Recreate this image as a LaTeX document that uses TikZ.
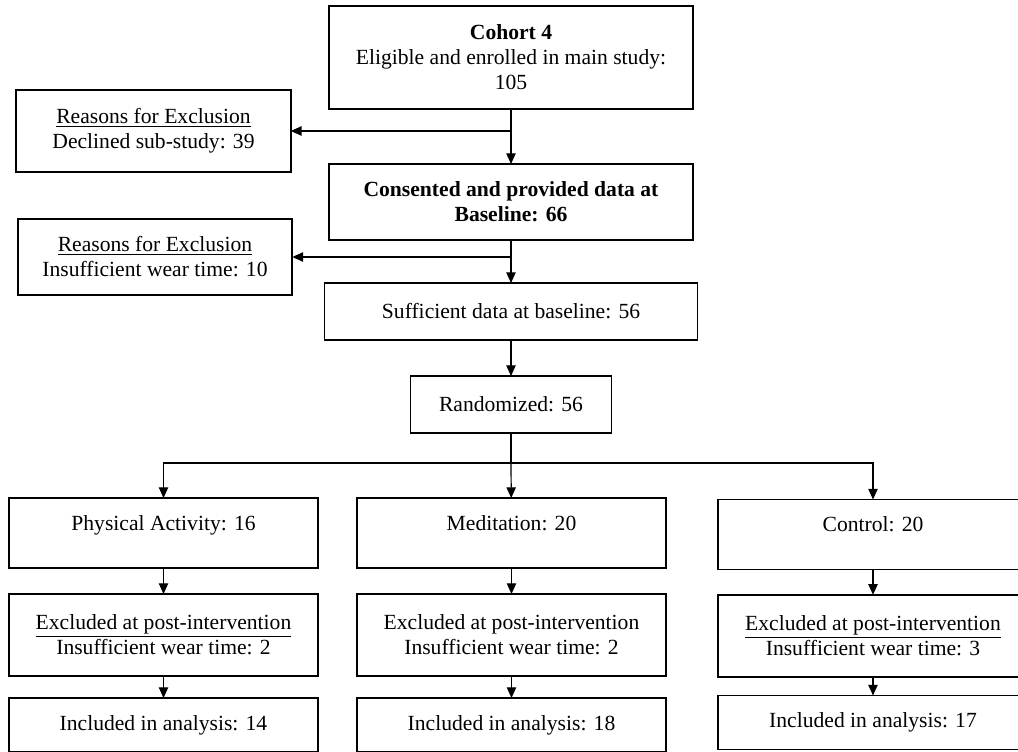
\documentclass[tikz,border=0pt]{standalone}
\usepackage{fontspec}
\setmainfont{Liberation Serif}
\usepackage{tikz}
\usetikzlibrary{arrows.meta,positioning}

\begin{document}
\begin{tikzpicture}[
    x=0.75pt, y=-0.75pt,
    font=\fontsize{16.2}{18.8}\selectfont,
    box/.style={rectangle, draw, line width=1.4pt, align=center, inner sep=2pt, outer sep=0pt},
    main/.style={box, minimum width=273pt},
    side/.style={box, minimum width=206pt},
    arm/.style={box, minimum width=232pt},
    armtop/.style={arm, minimum height=52.5pt, text depth=15.5pt},
    arrow/.style={-{Triangle[width=7pt,length=8pt]}, line width=0.9pt},
    link/.style={line width=0.9pt}
]
    \useasboundingbox (0,0) rectangle (1018,751);

    % main column
    \node[main, minimum height=77.25pt] (cohort) at (511,57.5)
        {\textbf{Cohort 4}\\Eligible and enrolled in main study:\\105};
    \node[main, minimum height=57pt, below=41.25pt of cohort, font=\fontsize{16.2}{18.8}\selectfont\bfseries] (cons)
        {Consented and provided data at\\Baseline: 66};
    \node[box, minimum width=279.75pt, minimum height=42.75pt, below=32.25pt of cons] (suff)
        {Sufficient data at baseline: 56};
    \node[box, minimum width=150.75pt, minimum height=42.75pt, below=27pt of suff] (rand)
        {Randomized: 56};

    % exclusions
    \node[side, minimum height=61.5pt] (excl1) at (153.5,131)
        {\underline{Reasons for Exclusion}\\Declined sub-study: 39};
    \node[side, minimum height=57pt] (excl2) at (155,257)
        {\underline{Reasons for Exclusion}\\Insufficient wear time: 10};

    % arms
    \node[armtop] (pa) at (163.5,533) {Physical Activity: 16};
    \node[armtop] (med) at (511.5,533) {Meditation: 20};
    \node[armtop] (ctrl) at (873,534.5) {Control: 20};

    \node[arm, minimum height=61.5pt, below=19.5pt of pa] (paexcl)
        {\underline{Excluded at post-intervention}\\Insufficient wear time: 2};
    \node[arm, minimum height=61.5pt, below=19.5pt of med] (medexcl)
        {Excluded at post-intervention\\Insufficient wear time: 2};
    \node[arm, minimum height=61.5pt, below=19pt of ctrl] (ctrlexcl)
        {\underline{Excluded at post-intervention}\\Insufficient wear time: 3};

    \node[arm, minimum height=40.5pt, below=16.5pt of paexcl] (paincl) {Included in analysis: 14};
    \node[arm, minimum height=40.5pt, below=16.5pt of medexcl] (medincl) {Included in analysis: 18};
    \node[arm, minimum height=40.5pt, below=14pt of ctrlexcl] (ctrlincl) {Included in analysis: 17};

    % connectors
    \draw[arrow] (cohort) -- (cons);
    \draw[arrow] (cohort.south |- excl1.east) -- (excl1.east);
    \draw[arrow] (cons) -- (suff);
    \draw[arrow] (cons.south |- excl2.east) -- (excl2.east);
    \draw[arrow] (suff) -- (rand);
    \draw[link] (rand.south) -- ++(0,30) coordinate (split);
    \draw[arrow] (split) -- (med);
    \draw[arrow] (split) -| (pa);
    \draw[arrow] (split) -| (ctrl);

    \draw[arrow] (pa) -- (paexcl);
    \draw[arrow] (med) -- (medexcl);
    \draw[arrow] (ctrl) -- (ctrlexcl);
    \draw[arrow] (paexcl) -- (paincl);
    \draw[arrow] (medexcl) -- (medincl);
    \draw[arrow] (ctrlexcl) -- (ctrlincl);
\end{tikzpicture}
\end{document}
